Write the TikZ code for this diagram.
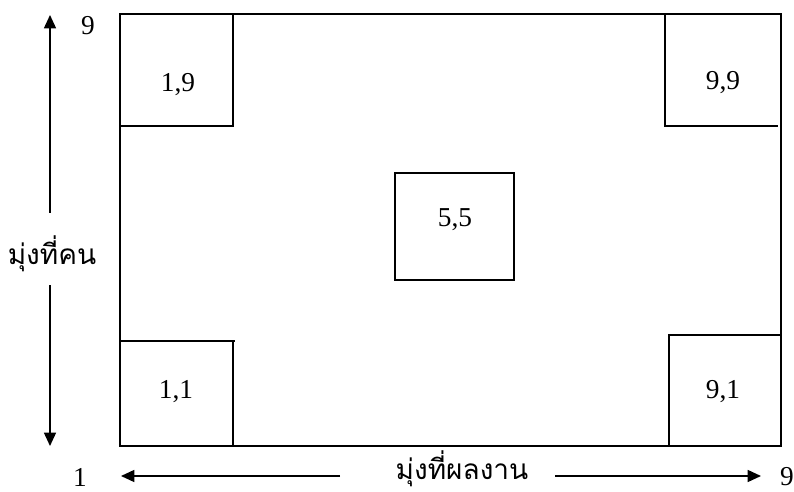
\documentclass[tikz,border=0pt]{standalone}
\usepackage{fontspec}
\setmainfont{Liberation Serif}
\newfontfamily\thaifont[Script=Thai]{Loma}
\usetikzlibrary{arrows.meta}
\begin{document}
\begin{tikzpicture}[x=0.75pt,y=-0.75pt,
  ln/.style={line width=1.1pt},
  arr/.style={line width=1.1pt,-{Triangle[length=10pt,width=9pt]}},
  num/.style={font=\fontsize{20.5}{24}\selectfont,inner sep=0pt,anchor=base},
  thai/.style={font=\thaifont\fontsize{21}{25}\selectfont,inner sep=0pt,anchor=base}]
\useasboundingbox (0,0) rectangle (794,492);
% outer frame
\draw[ln] (120,14) rectangle (781,446);
% top-left box
\draw[ln] (233,14) -- (233,126) -- (120,126);
% top-right box
\draw[ln] (665,14) -- (665,126) -- (778,126);
% bottom-left box
\draw[ln] (120,341) -- (235,341);
\draw[ln] (233,341) -- (233,446);
% bottom-right box
\draw[ln] (669,446) -- (669,335) -- (781,335);
% centre box
\node[draw,ln,minimum width=119*0.75pt,minimum height=107*0.75pt,inner sep=0pt] (c55) at (454.5,226.5) {};
% labels
\node[num] (l19) at (178,92) {1,9};
\node[num] (l99) at (723,90) {9,9};
\node[num] (l11) at (176,398) {1,1};
\node[num] (l91) at (723,398) {9,1};
\node[num] (l55) at (455,227) {5,5};
% vertical axis
\node[num] (ynine) at (88,35) {9};
\node[thai] (ylab) at (52,264) {มุ่งที่คน};
\coordinate (ytopS) at (50,213);
\coordinate (ytop) at (50,15);
\coordinate (ybotS) at (50,285);
\coordinate (ybot) at (50,446);
\draw[arr] (ytopS) -- (ytop);
\draw[arr] (ybotS) -- (ybot);
% horizontal axis
\node[num] (xone) at (80,486) {1};
\node[num] (xnine) at (787,485) {9};
\node[thai] (xlab) at (462,479) {มุ่งที่ผลงาน};
\coordinate (xlS) at (340,476);
\coordinate (xl) at (121,476);
\coordinate (xrS) at (555,476);
\coordinate (xr) at (761,476);
\draw[arr] (xlS) -- (xl);
\draw[arr] (xrS) -- (xr);
\end{tikzpicture}
\end{document}
